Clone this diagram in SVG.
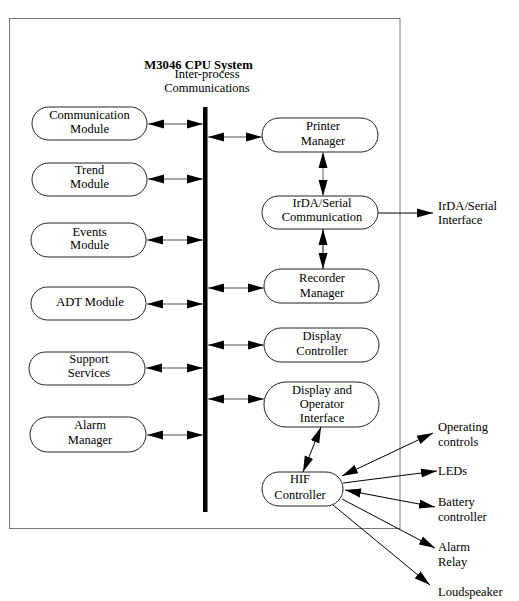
<svg xmlns="http://www.w3.org/2000/svg" width="519" height="601" viewBox="0 0 519 601">
<style>
text{font-family:"Liberation Serif","Times New Roman",serif;font-size:12.5px;fill:#000}
.c{text-anchor:middle}
.t{font-weight:bold;font-size:12.7px}
.n{fill:#fff;stroke:#222;stroke-width:1}
.g{stroke:#888;stroke-width:1.3;fill:none}
.k{stroke:#000;stroke-width:1;fill:none}
</style>
<defs>
<marker id="a" markerUnits="userSpaceOnUse" markerWidth="16" markerHeight="10" viewBox="0 0 16 10" refX="16" refY="5" orient="auto-start-reverse">
<path d="M0,0.5 L16,5 L0,9.5 z" fill="#000"/>
</marker>
</defs>
<rect x="9.5" y="18.5" width="390.5" height="510" fill="#fff" stroke="#777" stroke-width="1"/>
<g id="title">
<text class="c t" x="198.5" y="68.5">M3046 CPU System</text>
<text class="c" x="207" y="78">Inter-process</text>
<text class="c" x="207" y="92">Communications</text>
</g>
<g id="bus"><rect x="203" y="107" width="4.5" height="405" fill="#000"/></g>
<g id="comm"><rect class="n" x="32" y="107" width="115" height="33" rx="16.5"/><text class="c" x="89.5" y="119">Communication</text><text class="c" x="89.5" y="133">Module</text></g>
<g id="trend"><rect class="n" x="32" y="163" width="115" height="33" rx="16.5"/><text class="c" x="89.5" y="174">Trend</text><text class="c" x="89.5" y="188">Module</text></g>
<g id="events"><rect class="n" x="31" y="223" width="115" height="34" rx="17"/><text class="c" x="89.5" y="236">Events</text><text class="c" x="89.5" y="249">Module</text></g>
<g id="adt"><rect class="n" x="31" y="287" width="115" height="33" rx="16.5"/><text class="c" x="90" y="306">ADT Module</text></g>
<g id="support"><rect class="n" x="29" y="352" width="116" height="33" rx="16.5"/><text class="c" x="89" y="363">Support</text><text class="c" x="89" y="377">Services</text></g>
<g id="alarm"><rect class="n" x="30" y="417" width="116" height="35" rx="17.5"/><text class="c" x="90" y="429">Alarm</text><text class="c" x="90" y="444">Manager</text></g>
<g id="printer"><rect class="n" x="262" y="118" width="116" height="34" rx="17"/><text class="c" x="323" y="130">Printer</text><text class="c" x="323" y="145">Manager</text></g>
<g id="irda"><rect class="n" x="262" y="196" width="116" height="33" rx="16.5"/><text class="c" x="322" y="207">IrDA/Serial</text><text class="c" x="322" y="221">Communication</text></g>
<g id="recorder"><rect class="n" x="264" y="269" width="115" height="34" rx="17"/><text class="c" x="322" y="282">Recorder</text><text class="c" x="322" y="297">Manager</text></g>
<g id="dispctrl"><rect class="n" x="264" y="328" width="115" height="34" rx="17"/><text class="c" x="322" y="340">Display</text><text class="c" x="322" y="355">Controller</text></g>
<g id="dispop"><rect class="n" x="264" y="382" width="115" height="45" rx="22"/><text class="c" x="322" y="394">Display and</text><text class="c" x="322" y="408">Operator</text><text class="c" x="322" y="422">Interface</text></g>
<g id="hif"><rect class="n" x="262" y="472" width="81" height="34" rx="17"/><text class="c" x="300" y="483">HIF</text><text class="c" x="300" y="499">Controller</text></g>
<g id="ext">
<text x="438" y="210">IrDA/Serial</text><text x="438" y="224">Interface</text>
<text x="438" y="431">Operating</text><text x="438" y="446">controls</text>
<text x="438" y="475">LEDs</text>
<text x="438" y="506">Battery</text><text x="438" y="521">controller</text>
<text x="438" y="551">Alarm</text><text x="438" y="566">Relay</text>
<text x="438" y="596">Loudspeaker</text>
</g>
<g id="connectors">
<line class="g" x1="148" y1="124" x2="203" y2="124" marker-start="url(#a)" marker-end="url(#a)"/>
<line class="g" x1="148" y1="179" x2="203" y2="179" marker-start="url(#a)" marker-end="url(#a)"/>
<line class="g" x1="147" y1="240" x2="203" y2="240" marker-start="url(#a)" marker-end="url(#a)"/>
<line class="g" x1="147" y1="304" x2="203" y2="304" marker-start="url(#a)" marker-end="url(#a)"/>
<line class="g" x1="146" y1="368" x2="203" y2="368" marker-start="url(#a)" marker-end="url(#a)"/>
<line class="g" x1="147" y1="435" x2="203" y2="435" marker-start="url(#a)" marker-end="url(#a)"/>
<line class="g" x1="208" y1="137" x2="262" y2="137" marker-start="url(#a)" marker-end="url(#a)"/>
<line class="g" x1="208" y1="288" x2="264" y2="288" marker-start="url(#a)" marker-end="url(#a)"/>
<line class="g" x1="208" y1="345" x2="264" y2="345" marker-start="url(#a)" marker-end="url(#a)"/>
<line class="g" x1="208" y1="399" x2="264" y2="399" marker-start="url(#a)" marker-end="url(#a)"/>
<line class="g" x1="323" y1="152" x2="323" y2="196" marker-start="url(#a)" marker-end="url(#a)"/>
<line class="k" x1="323" y1="229" x2="323" y2="269" marker-start="url(#a)" marker-end="url(#a)"/>
<line class="k" x1="321" y1="427" x2="303" y2="472" marker-start="url(#a)" marker-end="url(#a)"/>
<line class="k" x1="378" y1="213" x2="433" y2="213" marker-end="url(#a)"/>
<line class="k" x1="342" y1="476" x2="433" y2="433" marker-start="url(#a)" marker-end="url(#a)"/>
<line class="k" x1="343" y1="483" x2="437" y2="471" marker-end="url(#a)"/>
<line class="k" x1="345" y1="490" x2="435" y2="507" marker-start="url(#a)" marker-end="url(#a)"/>
<line class="k" x1="342" y1="499" x2="435" y2="548" marker-end="url(#a)"/>
<line class="k" x1="333" y1="505" x2="430" y2="585" marker-end="url(#a)"/>
</g>
</svg>
